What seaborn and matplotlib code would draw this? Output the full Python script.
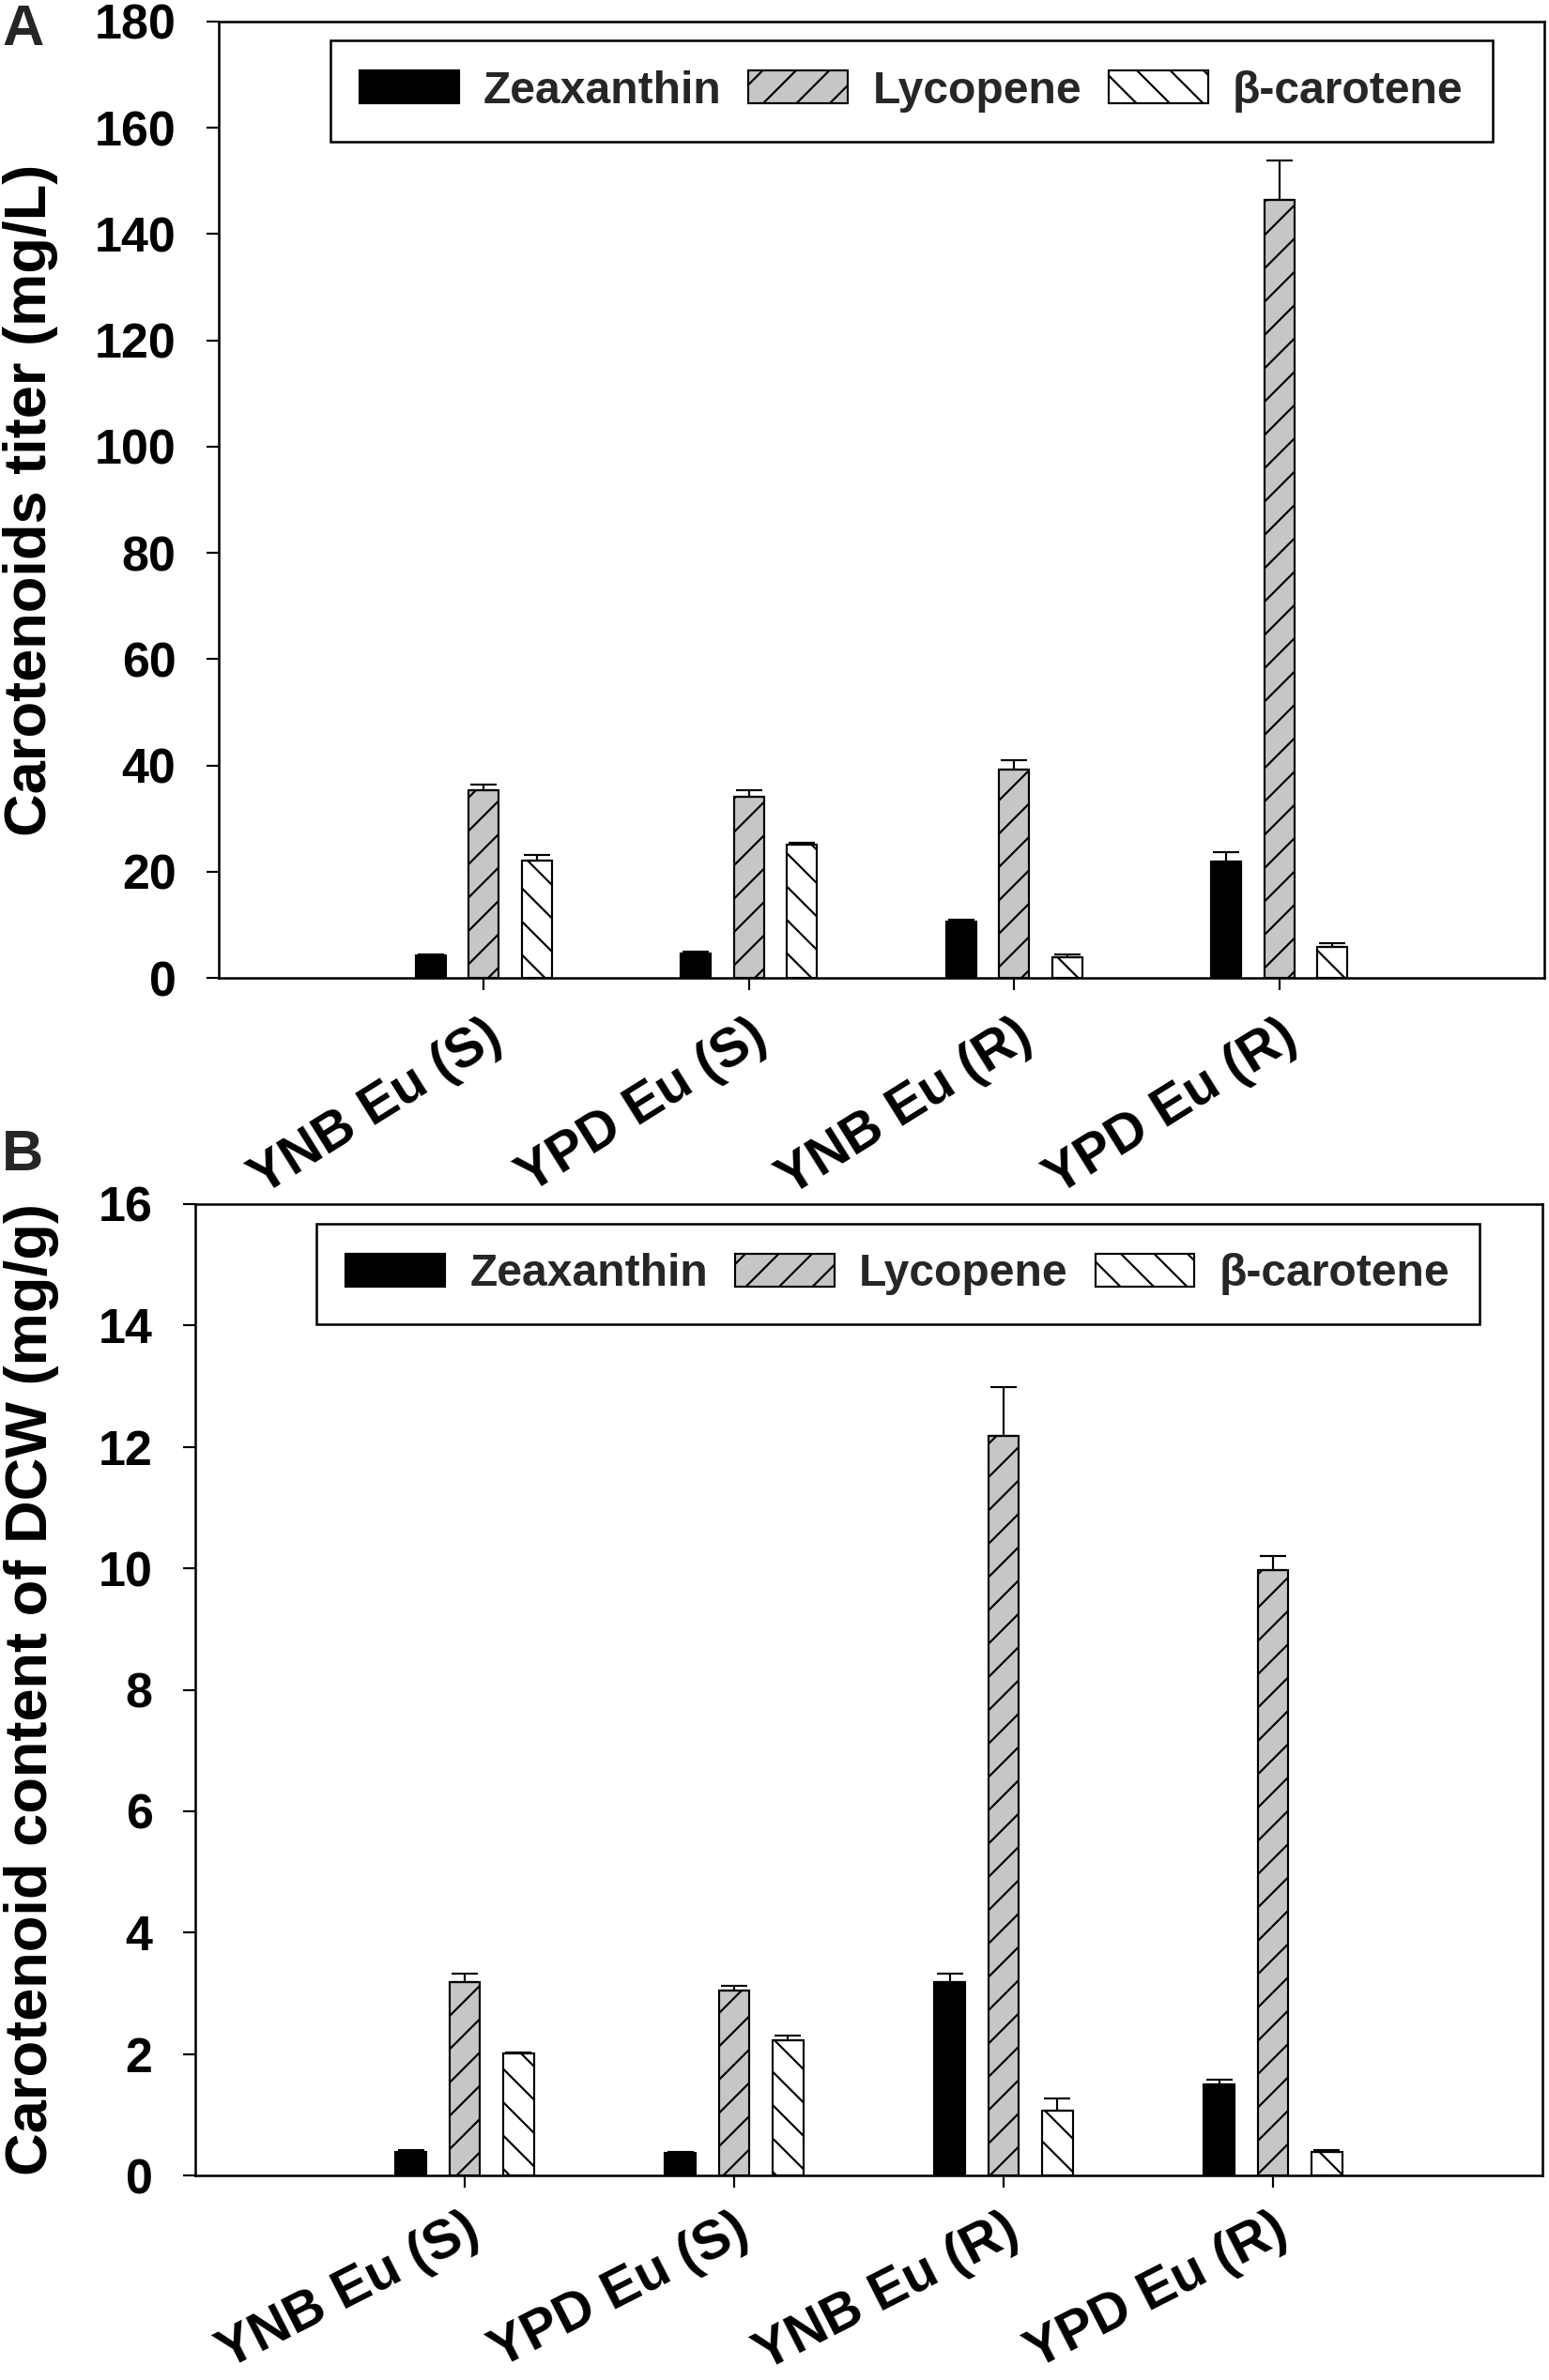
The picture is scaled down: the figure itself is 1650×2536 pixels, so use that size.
import numpy as np
import pandas as pd
import matplotlib
matplotlib.use("Agg")
import matplotlib.pyplot as plt
import seaborn as sns

# ---------------- data ----------------
categories = ["YNB Eu (S)", "YPD Eu (S)", "YNB Eu (R)", "YPD Eu (R)"]
series = ["Zeaxanthin", "Lycopene", "β-carotene"]

# Panel A: carotenoids titer (mg/L)
titer_zea = [4.2, 4.6, 10.6, 21.9]
titer_zea_err = [0.3, 0.3, 0.3, 1.8]
titer_lyc = [35.3, 34.1, 39.2, 146.5]
titer_lyc_err = [1.1, 1.2, 1.7, 7.4]
titer_bc = [22.0, 25.1, 3.8, 5.8]
titer_bc_err = [1.1, 0.3, 0.6, 0.8]

# Panel B: carotenoid content of DCW (mg/g)
content_zea = [0.38, 0.37, 3.18, 1.50]
content_zea_err = [0.03, 0.02, 0.15, 0.07]
content_lyc = [3.18, 3.05, 12.18, 9.97]
content_lyc_err = [0.15, 0.08, 0.81, 0.23]
content_bc = [2.01, 2.23, 1.07, 0.38]
content_bc_err = [0.02, 0.07, 0.20, 0.03]

colors = {"Zeaxanthin": "black", "Lycopene": "#c6c6c6", "β-carotene": "white"}
hatches = ["", "//", "\\\\"]

# ---------------- style ----------------
DPI = 213
K = 260 / DPI          # keeps sizes tuned for 260 dpi
W, H = 1650, 2536

sns.set_theme(style="white")
plt.rcParams["font.family"] = ["Liberation Sans", "DejaVu Sans"]
plt.rcParams["font.weight"] = "bold"
plt.rcParams["hatch.linewidth"] = 0.6 * K
plt.rcParams["hatch.color"] = "black"

fig = plt.figure(figsize=(W / DPI, H / DPI), dpi=DPI)

axA = fig.add_axes([233 / W, 1 - 1042 / H, (1645 - 233) / W, (1042 - 23) / H])
axB = fig.add_axes([208 / W, 1 - 2318 / H, (1643 - 208) / W, (2318 - 1283) / H])


def draw(ax, vals, errs, ymax, ystep, ylabel, label_x, leg_anchor, xrot, xpad):
    rows = []
    for s, v in zip(series, vals):
        for c, y in zip(categories, v):
            rows.append({"Condition": c, "Carotenoid": s, "Value": y})
    df = pd.DataFrame(rows)
    sns.barplot(data=df, x="Condition", y="Value", hue="Carotenoid",
                order=categories, hue_order=series, palette=colors,
                saturation=1, width=0.6, gap=0.43, errorbar=None,
                edgecolor="black", linewidth=0.6 * K, legend=False, ax=ax)
    bar_containers = list(ax.containers[:3])
    for cont, hatch, err in zip(bar_containers, hatches, errs):
        xs, tops = [], []
        for bar in cont:
            bar.set_hatch(hatch)
            xs.append(bar.get_x() + bar.get_width() / 2)
            tops.append(bar.get_height())
        ax.errorbar(xs, tops, yerr=[np.zeros(len(err)), err], fmt="none",
                    ecolor="black", elinewidth=0.6 * K, capsize=4.0 * K,
                    capthick=0.6 * K, zorder=3)

    ax.set_xlim(-1, 4)
    ax.set_ylim(0, ymax)
    ticks = np.arange(0, ymax + 0.001, ystep)
    ax.set_yticks(ticks)
    ax.set_yticklabels([f"{int(t)}" for t in ticks])
    ax.set_xlabel("")
    ax.set_ylabel(ylabel, fontsize=17.5 * K, fontweight="bold", color="black")
    ax.yaxis.set_label_coords(label_x, 0.5)

    ax.tick_params(axis="y", direction="out", length=3.6 * K, width=0.6 * K,
                   pad=9 * K, labelsize=14.4 * K, left=True, colors="black")
    ax.tick_params(axis="x", direction="out", length=3.6 * K, width=0.6 * K,
                   pad=xpad * K, labelsize=16 * K, bottom=True, colors="black")
    for lbl in ax.get_xticklabels():
        lbl.set_rotation(xrot)
        lbl.set_ha("right")
        lbl.set_va("top")
        lbl.set_rotation_mode("anchor")
        lbl.set_fontweight("bold")
    for lbl in ax.get_yticklabels():
        lbl.set_fontweight("bold")
    for sp in ax.spines.values():
        sp.set_visible(True)
        sp.set_color("black")
        sp.set_linewidth(0.7 * K)

    leg = ax.legend(bar_containers, series, loc="upper right",
                    bbox_to_anchor=leg_anchor, ncol=3, frameon=True,
                    fancybox=False, edgecolor="black", framealpha=1,
                    prop={"size": 13.3 * K, "weight": "bold"},
                    handlelength=2.2, handleheight=0.75, handletextpad=0.55,
                    columnspacing=0.6, borderpad=0.65, borderaxespad=0)
    leg.get_frame().set_linewidth(0.7 * K)


draw(axA, [titer_zea, titer_lyc, titer_bc],
     [titer_zea_err, titer_lyc_err, titer_bc_err],
     180, 20, "Carotenoids titer (mg/L)", (62 - 233) / 1412, (0.961, 0.980),
     32, 6)
draw(axB, [content_zea, content_lyc, content_bc],
     [content_zea_err, content_lyc_err, content_bc_err],
     16, 2, "Carotenoid content of DCW (mg/g)", (63 - 208) / 1435, (0.953, 0.980),
     27, 5)

fig.text(2 / W, 1 - 4 / H, "A", fontsize=17 * K, fontweight="bold", va="top", ha="left")
fig.text(2 / W, 1 - 1203 / H, "B", fontsize=17 * K, fontweight="bold", va="top", ha="left")

fig.savefig("out.png", dpi=DPI)
